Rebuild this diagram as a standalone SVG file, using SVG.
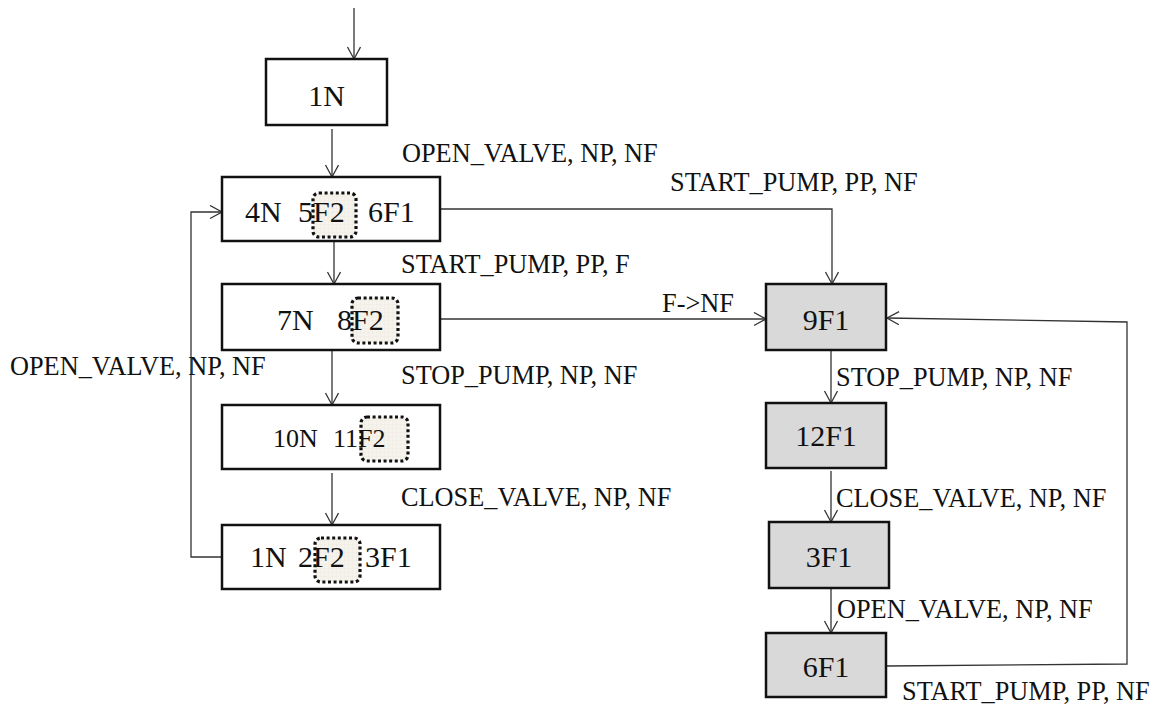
<svg xmlns="http://www.w3.org/2000/svg" width="1160" height="706" viewBox="0 0 1160 706">
<defs>
<marker id="arr" markerUnits="userSpaceOnUse" markerWidth="16" markerHeight="16" refX="13" refY="7" orient="auto">
<path d="M1,0.5 L13,7 L1,13.5" fill="none" stroke="#333" stroke-width="1.3"/>
</marker>
<pattern id="grid" width="4" height="4" patternUnits="userSpaceOnUse">
<rect width="4" height="4" fill="#f5f3ec"/>
<path d="M4,0 L0,0 0,4" fill="none" stroke="#e6e3da" stroke-width="0.5"/>
</pattern>
</defs>
<style>
.box{fill:#fff;stroke:#111;stroke-width:2.5}
.gbox{fill:#d9d9d9;stroke:#111;stroke-width:2.5}
.dot{fill:url(#grid);stroke:#111;stroke-width:3.2;stroke-dasharray:3 2.6}
.nt{font-family:"Liberation Serif","Times New Roman",serif;font-size:30px;fill:#111}
.st{font-family:"Liberation Serif","Times New Roman",serif;font-size:26px;fill:#111}
.lb{font-family:"Liberation Serif","Times New Roman",serif;font-size:26.3px;fill:#111}
.c{fill:none;stroke:#333;stroke-width:1.3}
</style>
<g id="connectors">
<line class="c" x1="354" y1="8" x2="354" y2="59" marker-end="url(#arr)"/>
<line class="c" x1="332" y1="129" x2="332" y2="177" marker-end="url(#arr)"/>
<line class="c" x1="334" y1="241" x2="334" y2="284" marker-end="url(#arr)"/>
<line class="c" x1="332" y1="350" x2="332" y2="405" marker-end="url(#arr)"/>
<line class="c" x1="332" y1="473" x2="332" y2="525" marker-end="url(#arr)"/>
<polyline class="c" points="222,557 191,557 191,212 222,212" marker-end="url(#arr)"/>
<polyline class="c" points="440,209 832,209 832,284" marker-end="url(#arr)"/>
<line class="c" x1="440" y1="319" x2="766" y2="319" marker-end="url(#arr)"/>
<line class="c" x1="831" y1="350" x2="831" y2="403" marker-end="url(#arr)"/>
<line class="c" x1="831" y1="471" x2="831" y2="522" marker-end="url(#arr)"/>
<line class="c" x1="831" y1="588" x2="831" y2="633" marker-end="url(#arr)"/>
<polyline class="c" points="887,666 1127,664 1127,322 887,318" stroke="#111" stroke-width="1.6" marker-end="url(#arr)"/>
<text class="lb" x="402" y="162">OPEN_VALVE, NP, NF</text>
<text class="lb" x="670" y="191">START_PUMP, PP, NF</text>
<text class="lb" x="401" y="273">START_PUMP, PP, F</text>
<text class="lb" x="662" y="312">F-&gt;NF</text>
<text class="lb" x="10" y="375">OPEN_VALVE, NP, NF</text>
<text class="lb" x="401" y="384">STOP_PUMP, NP, NF</text>
<text class="lb" x="401" y="506">CLOSE_VALVE, NP, NF</text>
<text class="lb" x="836" y="386">STOP_PUMP, NP, NF</text>
<text class="lb" x="836" y="507">CLOSE_VALVE, NP, NF</text>
<text class="lb" x="837" y="618">OPEN_VALVE, NP, NF</text>
<text class="lb" x="902" y="700">START_PUMP, PP, NF</text>
</g>
<g id="n1">
<rect class="box" x="266" y="59" width="121" height="66"/>
<text class="nt" x="326.5" y="106" text-anchor="middle">1N</text>
</g>
<g id="n4">
<rect class="box" x="222" y="177" width="218" height="64"/>
<rect class="dot" x="313" y="193" width="43" height="44" rx="6"/>
<text class="nt" x="245" y="222">4N</text>
<text class="nt" x="298" y="222">5F2</text>
<text class="nt" x="368" y="222">6F1</text>
</g>
<g id="n7">
<rect class="box" x="222" y="284" width="218" height="66"/>
<rect class="dot" x="352" y="298" width="46" height="45" rx="6"/>
<text class="nt" x="277" y="330">7N</text>
<text class="nt" x="337" y="330">8F2</text>
</g>
<g id="n10">
<rect class="box" x="222" y="405" width="218" height="64"/>
<rect class="dot" x="361" y="417" width="47" height="44" rx="6"/>
<text class="st" x="273" y="447">10N</text>
<text class="st" x="333" y="447">11F2</text>
</g>
<g id="n1b">
<rect class="box" x="222" y="525" width="218" height="64"/>
<rect class="dot" x="315" y="538" width="45" height="44" rx="6"/>
<text class="nt" x="250" y="567">1N</text>
<text class="nt" x="298" y="567">2F2</text>
<text class="nt" x="365" y="567">3F1</text>
</g>
<g id="n9">
<rect class="gbox" x="766" y="284" width="120" height="66"/>
<text class="nt" x="826" y="330" text-anchor="middle">9F1</text>
</g>
<g id="n12">
<rect class="gbox" x="766" y="403" width="120" height="65"/>
<text class="nt" x="826" y="446" text-anchor="middle">12F1</text>
</g>
<g id="n3">
<rect class="gbox" x="769" y="522" width="120" height="66"/>
<text class="nt" x="829" y="567" text-anchor="middle">3F1</text>
</g>
<g id="n6">
<rect class="gbox" x="766" y="633" width="120" height="64"/>
<text class="nt" x="826" y="677" text-anchor="middle">6F1</text>
</g>
</svg>
